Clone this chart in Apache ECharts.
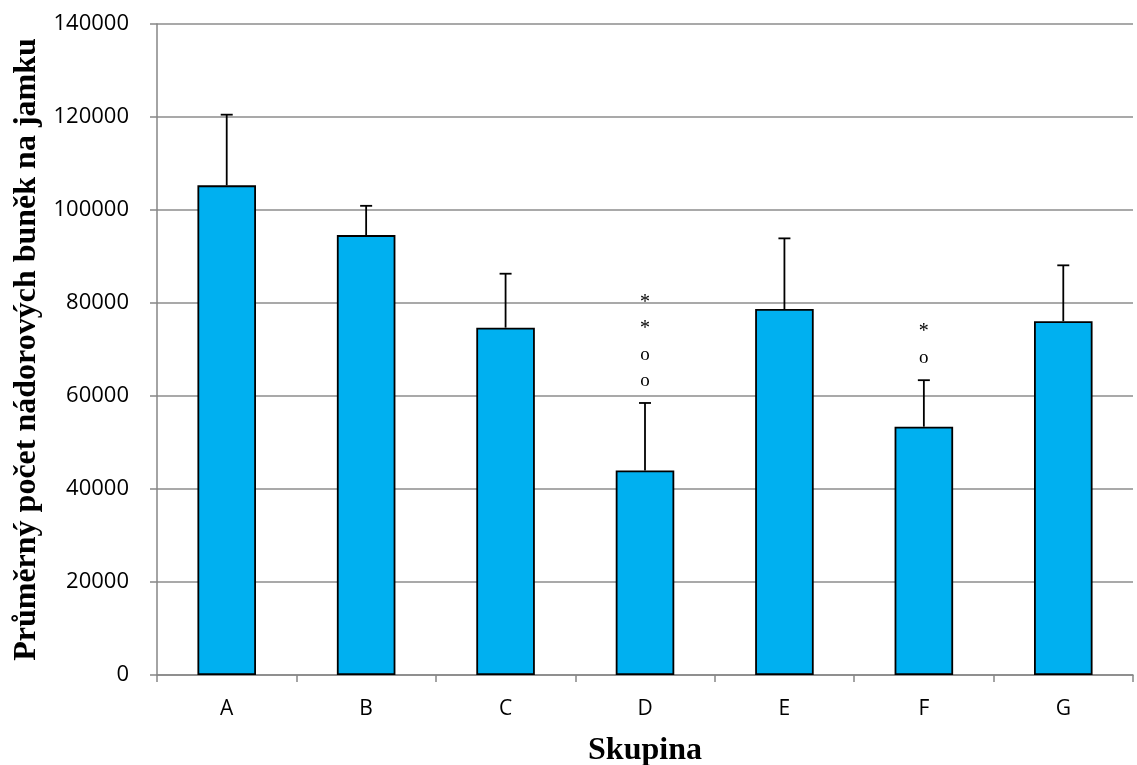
<!DOCTYPE html>
<html><head><meta charset="utf-8">
<script src="https://cdn.jsdelivr.net/npm/echarts@6/dist/echarts.min.js"></script>
<style>html,body{margin:0;padding:0;background:#fff}#c{width:1137px;height:765px}</style>
</head><body><div id="c"></div>
<script>
const categories = ['A','B','C','D','E','F','G'];
const means = [105300, 94600, 74700, 44000, 78700, 53400, 76100];
const errorTops = [120500, 100900, 86300, 58500, 93900, 63400, 88100];
const annotations = [[], [], [], ['o','o','*','*'], [], ['o','*'], []];
const yTicks = [0, 20000, 40000, 60000, 80000, 100000, 120000, 140000];

const chart = echarts.init(document.getElementById('c'));
chart.setOption({
  animation: false,
  grid: {left: 157, right: 4, top: 24, bottom: 90, containLabel: false, outerBoundsMode: 'none'},
  xAxis: {
    type: 'category', data: categories,
    name: 'Skupina', nameLocation: 'middle', nameGap: 60,
    nameTextStyle: {fontFamily: 'Liberation Serif', fontWeight: 'bold', fontSize: 32, color: '#000'},
    axisLine: {lineStyle: {color: '#868686', width: 1.5}},
    axisTick: {show: true, alignWithLabel: false, length: 7, lineStyle: {color: '#868686', width: 1.5}},
    axisLabel: {fontFamily: 'Open Sans', fontSize: 21, color: '#000', margin: 24}
  },
  yAxis: {
    type: 'value', min: yTicks[0], max: yTicks[yTicks.length-1], interval: 20000,
    name: 'Průměrný počet nádorových buněk na jamku', nameLocation: 'middle', nameGap: 114,
    nameTextStyle: {fontFamily: 'Liberation Serif', fontWeight: 'bold', fontSize: 32, color: '#000'},
    axisLine: {show: true, lineStyle: {color: '#868686', width: 1.5}},
    axisTick: {show: true, length: 7, lineStyle: {color: '#868686', width: 1.5}},
    axisLabel: {fontFamily: 'Open Sans', fontSize: 22, color: '#000', margin: 28, formatter: v => String(v)},
    splitLine: {lineStyle: {color: '#8c8c8c', width: 1.5}}
  },
  series: [
    {
      type: 'bar', data: means, barWidth: '42%',
      itemStyle: {color: '#00B0F0', borderColor: '#000', borderWidth: 1.8}
    },
    {
      type: 'custom',
      data: categories.map((c, i) => [i, means[i], errorTops[i]]),
      renderItem: function (params, api) {
        const i = api.value(0);
        const base = api.coord([i, api.value(1)]);
        const top = api.coord([i, api.value(2)]);
        const children = [
          {type: 'line', shape: {x1: base[0], y1: base[1], x2: top[0], y2: top[1]}, style: {stroke: '#000', lineWidth: 1.8}},
          {type: 'line', shape: {x1: top[0]-6, y1: top[1], x2: top[0]+6, y2: top[1]}, style: {stroke: '#000', lineWidth: 1.8}}
        ];
        annotations[i].forEach((t, k) => {
          children.push({type: 'text', x: top[0], y: top[1] - 22 - k*26,
            style: {text: t, fill: '#000', fontFamily: 'Liberation Serif', fontSize: t === '*' ? 20 : 19, align: 'center', verticalAlign: 'middle'}});
        });
        return {type: 'group', children: children};
      },
      z: 5
    }
  ]
});
</script></body></html>
